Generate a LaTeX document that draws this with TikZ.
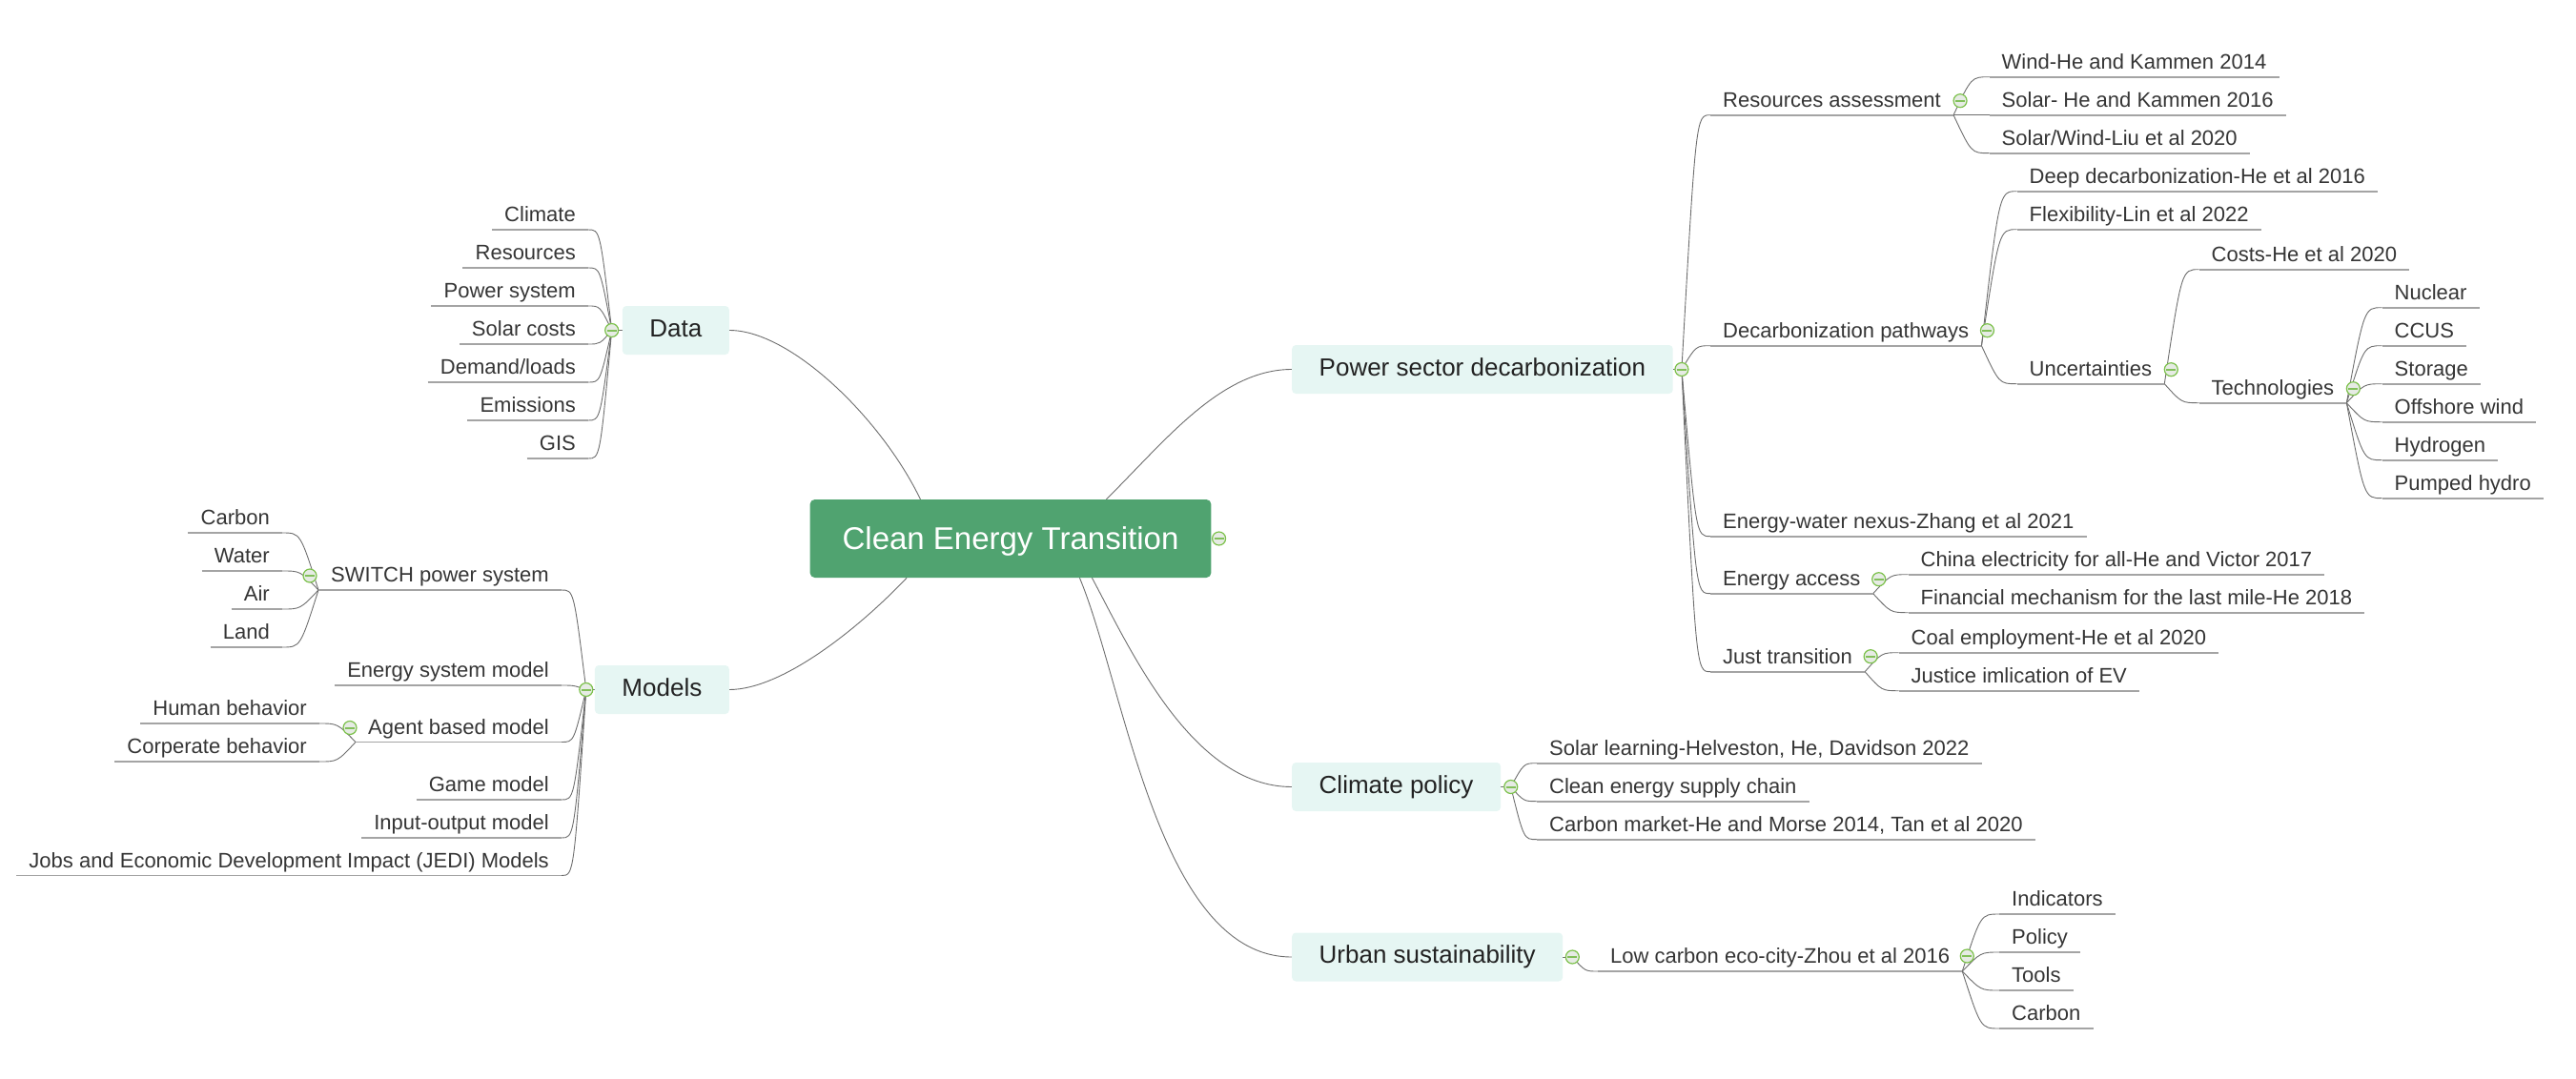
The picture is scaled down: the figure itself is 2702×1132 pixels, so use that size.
\documentclass[tikz,border=0pt]{standalone}
\usepackage{fontspec}
\setmainfont{Liberation Sans}
\usetikzlibrary{calc,backgrounds}
\definecolor{txt}{HTML}{353535}
\definecolor{txtmain}{HTML}{222222}
\definecolor{boxfill}{HTML}{E6F6F3}
\definecolor{rootfill}{HTML}{50A370}
\definecolor{conncol}{HTML}{6E6E6E}
\definecolor{ulcol}{HTML}{A4A4A4}
\definecolor{cgreen}{HTML}{7CC14B}
\definecolor{cfill}{HTML}{E6EBE4}
\definecolor{cbar}{HTML}{82C05A}
\tikzset{
  conn/.style={draw=conncol, line width=0.9pt},
  ul/.style={draw=ulcol, line width=1.8pt},
  leaf/.style={font=\fontsize{22}{26}\selectfont, text=txt, inner xsep=13pt, inner ysep=0pt,
    text height=16pt, text depth=8pt,
    append after command={(\tikzlastnode.south west) edge[ul] (\tikzlastnode.south east)}},
  mainbox/.style={fill=boxfill, rounded corners=4pt, font=\fontsize{26}{30}\selectfont, text=txtmain,
    inner xsep=28.5pt, inner ysep=0pt, text height=18.6pt, text depth=5pt, minimum height=51pt},
  rootbox/.style={fill=rootfill, rounded corners=5pt, font=\fontsize{33}{38}\selectfont, text=white,
    inner xsep=34pt, inner ysep=0pt, text height=23.6pt, text depth=0pt, minimum height=82pt},
  coll/.style={circle, draw=cgreen, line width=1.2pt, fill=cfill, minimum size=14pt, inner sep=0pt,
    path picture={\draw[draw=cbar, line width=2pt] ([xshift=-5pt]path picture bounding box.center) -- ([xshift=5pt]path picture bounding box.center);}},
}
\newcommand{\conncurve}[2]{\draw[conn] let \p1=(#1), \p2=(#2) in (\p1) .. controls ({0.5*\x1+0.5*\x2},\y2) and ({0.5*\x1+0.5*\x2},\y2) .. (\p2);}
\begin{document}
\begin{tikzpicture}[x=1pt,y=-1pt]
\useasboundingbox (0,0) rectangle (2702,1132);

% root and main topics
\node[rootbox] (root) at (1060,565) {Clean Energy Transition};
\node[mainbox, anchor=east] (data) at (765,346.5) {Data};
\node[mainbox, anchor=east] (models) at (765,723.5) {Models};
\node[mainbox, anchor=west] (power) at (1355,387.5) {Power sector decarbonization};
\node[mainbox, anchor=west] (climate) at (1355,825.5) {Climate policy};
\node[mainbox, anchor=west] (urban) at (1355,1004) {Urban sustainability};

% Data children
\node[leaf, anchor=south east] (d1) at (617,241) {Climate};
\node[leaf, anchor=south east] (d2) at (617,281) {Resources};
\node[leaf, anchor=south east] (d3) at (617,321) {Power system};
\node[leaf, anchor=south east] (d4) at (617,361) {Solar costs};
\node[leaf, anchor=south east] (d5) at (617,401) {Demand/loads};
\node[leaf, anchor=south east] (d6) at (617,441) {Emissions};
\node[leaf, anchor=south east] (d7) at (617,481) {GIS};

% Models children
\node[leaf, anchor=south east] (m1) at (589,619) {SWITCH power system};
\node[leaf, anchor=south east] (m2) at (589,719) {Energy system model};
\node[leaf, anchor=south east] (m3) at (589,778.5) {Agent based model};
\node[leaf, anchor=south east] (m4) at (589,839) {Game model};
\node[leaf, anchor=south east] (m5) at (589,879) {Input-output model};
\node[leaf, anchor=south east] (m6) at (589,918.5) {Jobs and Economic Development Impact (JEDI) Models};
\node[leaf, anchor=south east] (s1) at (296,559) {Carbon};
\node[leaf, anchor=south east] (s2) at (296,599) {Water};
\node[leaf, anchor=south east] (s3) at (296,639) {Air};
\node[leaf, anchor=south east] (s4) at (296,679) {Land};
\node[leaf, anchor=south east] (a1) at (335,759) {Human behavior};
\node[leaf, anchor=south east] (a2) at (335,799) {Corperate behavior};

% Power sector children
\node[leaf, anchor=south west] (p1) at (1794,120.7) {Resources assessment\hspace{3.5pt}};
\node[leaf, anchor=south west] (p2) at (1794,362.7) {Decarbonization pathways\hspace{3.5pt}};
\node[leaf, anchor=south west] (p3) at (1794,562.7) {Energy-water nexus-Zhang et al 2021};
\node[leaf, anchor=south west] (p4) at (1794,622.7) {Energy access\hspace{3.5pt}};
\node[leaf, anchor=south west] (p5) at (1794,704.7) {Just transition\hspace{3.5pt}};
\node[leaf, anchor=south west] (r1) at (2086.5,80.7) {Wind-He and Kammen 2014};
\node[leaf, anchor=south west] (r2) at (2086.5,120.7) {Solar- He and Kammen 2016};
\node[leaf, anchor=south west] (r3) at (2086.5,160.7) {Solar/Wind-Liu et al 2020};
\node[leaf, anchor=south west] (q1) at (2115.5,200.7) {Deep decarbonization-He et al 2016};
\node[leaf, anchor=south west] (q2) at (2115.5,240.7) {Flexibility-Lin et al 2022};
\node[leaf, anchor=south west] (q3) at (2115.5,402.7) {Uncertainties\hspace{3.5pt}};
\node[leaf, anchor=south west] (u1) at (2306.5,282.7) {Costs-He et al 2020};
\node[leaf, anchor=south west] (u2) at (2306.5,422.7) {Technologies\hspace{3.5pt}};
\node[leaf, anchor=south west] (t1) at (2498.5,322.7) {Nuclear};
\node[leaf, anchor=south west] (t2) at (2498.5,362.7) {CCUS};
\node[leaf, anchor=south west] (t3) at (2498.5,402.7) {Storage};
\node[leaf, anchor=south west] (t4) at (2498.5,442.7) {Offshore wind};
\node[leaf, anchor=south west] (t5) at (2498.5,482.7) {Hydrogen};
\node[leaf, anchor=south west] (t6) at (2498.5,522.7) {Pumped hydro};
\node[leaf, anchor=south west] (e1) at (2001.5,602.7) {China electricity for all-He and Victor 2017};
\node[leaf, anchor=south west] (e2) at (2001.5,642.7) {Financial mechanism for the last mile-He 2018};
\node[leaf, anchor=south west] (j1) at (1991.5,684.7) {Coal employment-He et al 2020};
\node[leaf, anchor=south west] (j2) at (1991.5,724.7) {Justice imlication of EV};

% Climate policy children
\node[leaf, anchor=south west] (c1) at (1612,800.7) {Solar learning-Helveston, He, Davidson 2022};
\node[leaf, anchor=south west] (c2) at (1612,840.7) {Clean energy supply chain};
\node[leaf, anchor=south west] (c3) at (1612,880.7) {Carbon market-He and Morse 2014, Tan et al 2020};

% Urban sustainability children
\node[leaf, anchor=south west] (l0) at (1676,1019) {Low carbon eco-city-Zhou et al 2016\hspace{3.5pt}};
\node[leaf, anchor=south west] (l1) at (2097,959) {Indicators};
\node[leaf, anchor=south west] (l2) at (2097,999) {Policy};
\node[leaf, anchor=south west] (l3) at (2097,1039) {Tools};
\node[leaf, anchor=south west] (l4) at (2097,1079) {Carbon};

% collapse markers
\node[coll] (rootC) at ([xshift=8pt]root.east) {};
\node[coll] (dataC) at ([xshift=-11pt]data.west) {};
\node[coll] (modelsC) at ([xshift=-9pt]models.west) {};
\node[coll] (powerC) at ([xshift=9pt]power.east) {};
\node[coll] (climateC) at ([xshift=10.5pt]climate.east) {};
\node[coll] (urbanC) at ([xshift=10pt]urban.east) {};
\node[coll] (m1C) at ($(m1.south west)+(-9,-15)$) {};
\node[coll] (m3C) at ($(m3.south west)+(-6,-15)$) {};
\node[coll] (p1C) at ($(p1.south east)+(7,-15)$) {};
\node[coll] (p2C) at ($(p2.south east)+(6,-16)$) {};
\node[coll] (q3C) at ($(q3.south east)+(7,-15)$) {};
\node[coll] (u2C) at ($(u2.south east)+(7,-15)$) {};
\node[coll] (p4C) at ($(p4.south east)+(6,-15)$) {};
\node[coll] (p5C) at ($(p5.south east)+(6,-16)$) {};
\node[coll] (l0C) at ($(l0.south east)+(5,-16)$) {};

% connectors
\begin{pgfonlayer}{background}
\coordinate (rD) at ($(root.north west)+(116,0)$);
\coordinate (rP) at ($(root.north west)+(311,0)$);
\coordinate (rM) at ($(root.south west)+(101.7,0)$);
\coordinate (rC) at ($(root.south west)+(296,0)$);
\coordinate (rU) at ($(root.south west)+(283,0)$);
\draw[conn] (rD) .. controls (925,440) and (830,346.5) .. (data.east);
\draw[conn] (rP) .. controls (1221,464) and (1280,387.5) .. (power.west);
\draw[conn] (rM) .. controls (900,660) and (820,723.5) .. (models.east);
\draw[conn] (rC) .. controls (1185,680) and (1250,825.5) .. (climate.west);
\draw[conn] (rU) .. controls (1180,720) and (1215,1004) .. (urban.west);

\draw[conn] (data.west) -- (dataC.center);
\draw[conn] (models.west) -- (modelsC.center);
\draw[conn] (power.east) -- (powerC.center);
\draw[conn] (climate.east) -- (climateC.center);
\draw[conn] (urban.east) -- (urbanC.center);

\foreach \nd in {d1,d2,d3,d4,d5,d6,d7} {\conncurve{dataC.center}{\nd.south east}}
\foreach \nd in {m1,m2,m3,m4,m5,m6} {\conncurve{modelsC.center}{\nd.south east}}
\foreach \nd in {s1,s2,s3,s4} {\conncurve{m1.south west}{\nd.south east}}
\foreach \nd in {a1,a2} {\conncurve{m3.south west}{\nd.south east}}
\foreach \nd in {p1,p2,p3,p4,p5} {\conncurve{powerC.center}{\nd.south west}}
\foreach \nd in {r1,r2,r3} {\conncurve{p1.south east}{\nd.south west}}
\foreach \nd in {q1,q2,q3} {\conncurve{p2.south east}{\nd.south west}}
\foreach \nd in {u1,u2} {\conncurve{q3.south east}{\nd.south west}}
\foreach \nd in {t1,t2,t3,t4,t5,t6} {\conncurve{u2.south east}{\nd.south west}}
\foreach \nd in {e1,e2} {\conncurve{p4.south east}{\nd.south west}}
\foreach \nd in {j1,j2} {\conncurve{p5.south east}{\nd.south west}}
\foreach \nd in {c1,c2,c3} {\conncurve{climateC.center}{\nd.south west}}
\conncurve{urbanC.center}{l0.south west}
\foreach \nd in {l1,l2,l3,l4} {\conncurve{l0.south east}{\nd.south west}}
\end{pgfonlayer}
\end{tikzpicture}
\end{document}
